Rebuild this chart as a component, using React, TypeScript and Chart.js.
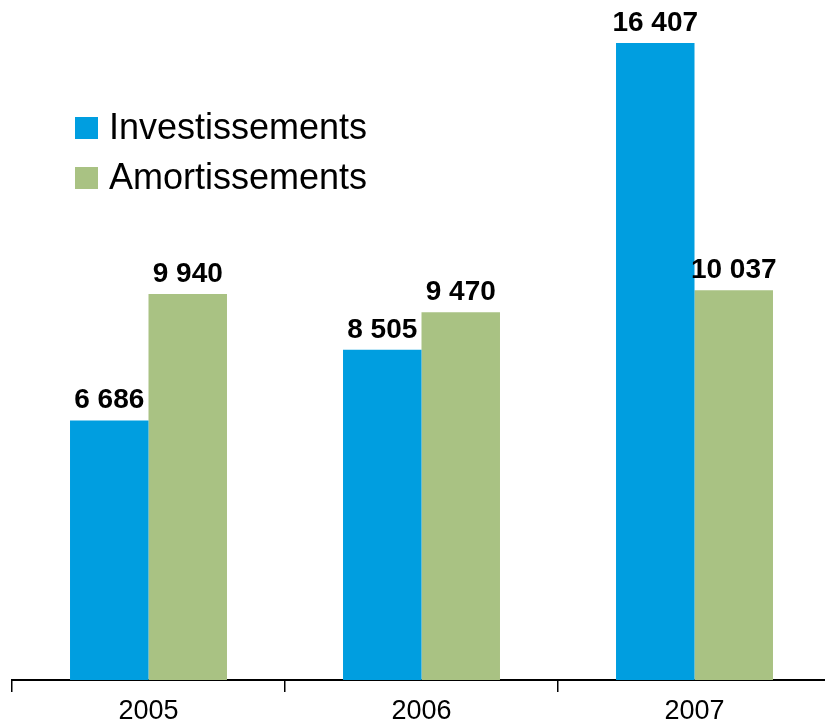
import React, { useEffect, useRef } from "react";
import { Chart, registerables } from "chart.js";

Chart.register(...registerables);

const categories = ["2005", "2006", "2007"];
const investissements = [6686, 8505, 16407];
const amortissements = [9940, 9470, 10037];
const seriesNames = ["Investissements", "Amortissements"];
const seriesColors = ["#009EE0", "#A9C283"];

const FONT = "'Liberation Sans', Arial, Helvetica, sans-serif";

const formatValue = (v: number) =>
  String(v).replace(/\B(?=(\d{3})+(?!\d))/g, " ");

const valueLabels = {
  id: "valueLabels",
  afterDatasetsDraw(chart: any) {
    const ctx = chart.ctx;
    ctx.save();
    ctx.font = `bold 28px ${FONT}`;
    ctx.fillStyle = "#000";
    ctx.textAlign = "center";
    ctx.textBaseline = "alphabetic";
    chart.data.datasets.forEach((ds: any, i: number) => {
      const meta = chart.getDatasetMeta(i);
      meta.data.forEach((bar: any, j: number) => {
        ctx.fillText(formatValue(ds.data[j]), bar.x, bar.y - 12);
      });
    });
    ctx.restore();
  },
};

const customLegend = {
  id: "customLegend",
  afterDraw(chart: any) {
    const ctx = chart.ctx;
    ctx.save();
    ctx.font = `36px ${FONT}`;
    ctx.textAlign = "left";
    ctx.textBaseline = "alphabetic";
    chart.data.datasets.forEach((ds: any, i: number) => {
      const baseline = 139 + i * 50;
      ctx.fillStyle = ds.backgroundColor;
      ctx.fillRect(75, baseline - 22, 23, 22);
      ctx.fillStyle = "#000";
      ctx.fillText(ds.label, 109, baseline);
    });
    ctx.restore();
  },
};

export default function App() {
  const ref = useRef<HTMLCanvasElement>(null);

  useEffect(() => {
    if (!ref.current) return;
    const chart = new Chart(ref.current, {
      type: "bar",
      data: {
        labels: categories,
        datasets: [
          {
            label: seriesNames[0],
            data: investissements,
            backgroundColor: seriesColors[0],
            categoryPercentage: 0.575,
            barPercentage: 1,
          },
          {
            label: seriesNames[1],
            data: amortissements,
            backgroundColor: seriesColors[1],
            categoryPercentage: 0.575,
            barPercentage: 1,
          },
        ],
      },
      options: {
        animation: false,
        responsive: false,
        maintainAspectRatio: false,
        layout: { padding: { left: 12, right: 0, top: 20, bottom: 0 } },
        plugins: {
          legend: { display: false },
          tooltip: { enabled: false },
        },
        scales: {
          x: {
            grid: {
              display: true,
              drawOnChartArea: false,
              drawTicks: true,
              tickLength: 12,
              color: "#000",
              lineWidth: 1.5,
              offset: true,
            },
            border: { display: true, color: "#000", width: 2 },
            ticks: {
              color: "#000",
              font: { family: FONT, size: 27 },
              padding: 3,
            },
            afterFit(scale: any) {
              scale.height = 46;
            },
          },
          y: {
            display: false,
            min: 0,
            max: 17000,
          },
        },
      },
      plugins: [valueLabels, customLegend],
    });
    return () => chart.destroy();
  }, []);

  return (
    <div
      style={{
        position: "fixed",
        left: 0,
        top: 0,
        width: 825,
        height: 726,
        overflow: "hidden",
        background: "#fff",
      }}
    >
      <canvas ref={ref} width={831} height={726} style={{ display: "block" }} />
    </div>
  );
}
